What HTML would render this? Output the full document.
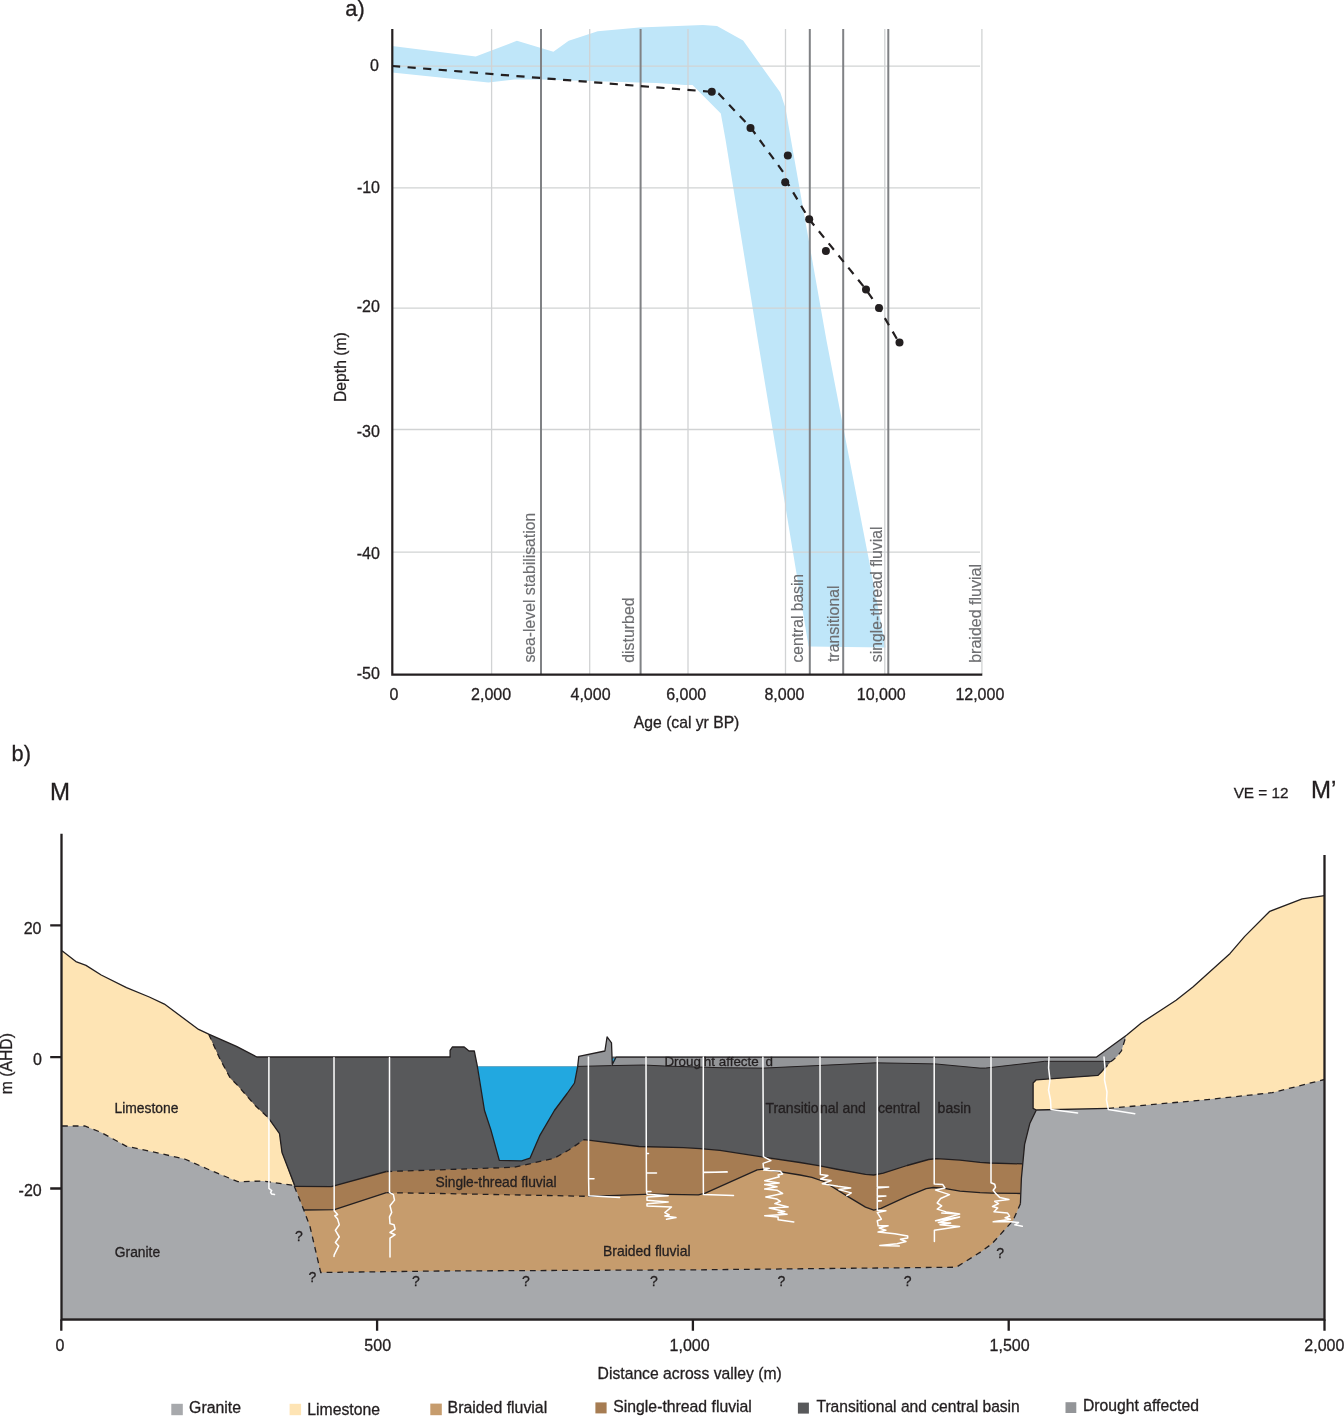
<!DOCTYPE html>
<html><head><meta charset="utf-8">
<style>
html,body{margin:0;padding:0;background:#fff;}
body{width:1344px;height:1416px;overflow:hidden;}
svg{display:block;will-change:transform;}
text{font-family:"Liberation Sans",sans-serif;fill:#231f20;stroke:#231f20;stroke-width:0.3px;}
text.gl{fill:#6d6e71;stroke:#6d6e71;stroke-width:0.15px;}
</style></head>
<body>
<svg width="1344" height="1416" viewBox="0 0 1344 1416">
<rect x="0" y="0" width="1344" height="1416" fill="#fff"/>
<!-- ============ CHART A ============ -->
<g id="a">
<!-- blue band -->
<polygon fill="#bfe6f9" points="392,46 475.7,56.6 516.9,40.8 553.4,51.7 568.7,40.8 597.7,31.3 639.4,27.4 702.9,24.9 717,26.1 743.1,40.5 780.3,92.6 785.5,108.2 791,140 826.4,340 885.8,647.6 808.6,646.4 757.8,340 725.6,140 720.8,113.4 692.5,84.9 685,85.1 656.8,82.9 630,82.2 541.2,79.6 514.4,79.6 488.4,82.5 392,72.5"/>
<!-- light gridlines -->
<g stroke="#d1d3d4" stroke-width="1.3" fill="none">
<path d="M392 66.2H980M392 187.9H980M392 308.1H980M392 429.5H980M392 552.2H980"/>
<path d="M491.6 29V674M589.7 29V674M688 29V674M785.5 29V674M884.8 29V674M981.9 29V674"/>
</g>
<!-- dark verticals -->
<g stroke="#808285" stroke-width="2" fill="none">
<path d="M541 29V674M640.6 29V674M809.8 29V674M843.2 29V674M888.3 29V674"/>
</g>
<!-- dashed curve -->
<polyline fill="none" stroke="#231f20" stroke-width="2.2" stroke-dasharray="8.2 7.4" points="392,66 711.8,91.8 718.5,93.5 750.7,127.6 783.5,172.5 787,182 809.2,219.3 866,289.5 879,308.1 899,342.5"/>
<g fill="#231f20">
<circle cx="711.8" cy="91.8" r="4"/><circle cx="750.5" cy="128" r="4"/>
<circle cx="787.8" cy="155.5" r="4"/><circle cx="785.2" cy="182.3" r="4"/>
<circle cx="809.2" cy="219.3" r="4"/><circle cx="825.9" cy="251.1" r="4"/>
<circle cx="866" cy="289.5" r="4"/><circle cx="879" cy="308.1" r="4"/>
<circle cx="899.5" cy="342.5" r="4"/>
</g>
<!-- axes -->
<path d="M392.3 29V675.8M391.2 674.7H982.3" stroke="#231f20" stroke-width="2.2" fill="none"/>
</g>
<!-- ============ CHART B ============ -->
<g id="b">
<!-- granite base -->
<rect x="62" y="1070" width="1262.5" height="248.5" fill="#a7a9ac"/>
<!-- limestone left -->
<polygon fill="#fee4b4" points="62,950.7 75.9,961.6 86,965.4 101.2,975 126.5,987.7 149.3,997 164.4,1004.1 198.6,1029.4 208.7,1034.2 220,1059 230.2,1078 237.8,1085.6 255.5,1105.8 268.2,1117.7 279.5,1133.6 282,1152.6 294.7,1185.5 263.1,1181 237.8,1181.7 207.4,1169 184.7,1159 161.9,1153.9 126.5,1146.3 101.2,1132.4 84.7,1126 62,1126"/>
<!-- limestone right -->
<polygon fill="#fee4b4" points="1123.3,1044.9 1126.3,1035.2 1141.3,1023 1176.1,1000.2 1192.9,987 1230.1,953.4 1244.5,936.6 1269.8,911.3 1302.2,898.8 1324.5,895.7 1324.5,1079.5 1272.2,1092.7 1202.5,1100.1 1108.3,1108.4 1036.3,1110 1033.1,1108.4 1033.1,1083 1036.3,1079.8 1098,1075.4 1101.4,1072 1103.6,1069.4 1111,1061.6 1113.3,1059.8 1117.4,1056 1121.5,1050.8"/>
<!-- braided (all sediment) -->
<polygon fill="#c69c6d" points="256.8,1057 1096.9,1057.2 1113.3,1059.8 1111,1061.6 1103.6,1069.4 1101.4,1072 1098,1075.4 1036.3,1079.8 1033.1,1083 1033.1,1108.4 1036.3,1110 1029.9,1123.2 1024.6,1144.4 1021.4,1178.3 1020.4,1203.7 1013,1220.6 991.8,1243.9 980,1252.4 956.3,1267.2 700,1269.8 440,1271 320.7,1272.5 310.1,1227 303.8,1210 294.7,1185.5 282,1152.6 279.5,1133.6 268.2,1117.7 255.5,1105.8 237.8,1085.6 230.2,1078 220,1059 208.7,1034.2 236.5,1046.4"/>
<!-- single-thread -->
<polygon fill="#a67c52" points="256.8,1057 1096.9,1057.2 1113.3,1059.8 1111,1061.6 1103.6,1069.4 1101.4,1072 1098,1075.4 1036.3,1079.8 1033.1,1083 1033.1,1108.4 1036.3,1110 1029.9,1123.2 1024.6,1144.4 1021.4,1178.3 1020.4,1193.5 991.8,1193.1 980,1192.7 960,1191.1 942.9,1188.1 933.3,1187.5 926.2,1188.7 907.1,1196.4 881,1208.3 873.8,1210.1 865.5,1207.1 847.6,1196.4 823.8,1181.5 811.9,1177.4 800,1175 763.5,1169.2 757.2,1169.8 705.3,1193.1 698.4,1194.8 651.8,1194.2 588.3,1196.3 440,1193.5 386.4,1192.7 334.5,1209.6 303.8,1210 294.7,1185.5 282,1152.6 279.5,1133.6 268.2,1117.7 255.5,1105.8 237.8,1085.6 230.2,1078 220,1059 208.7,1034.2 236.5,1046.4"/>
<!-- dark transitional / central basin -->
<polygon fill="#58595b" points="208.7,1034.2 236.5,1046.4 256.8,1057 450.1,1057 450.1,1050.3 452.3,1047 464.2,1047 469,1051 474.3,1051 477.3,1066 577.7,1066 578.7,1056.5 1096.9,1057.2 1113.3,1059.8 1111,1061.6 1103.6,1069.4 1101.4,1072 1098,1075.4 1036.3,1079.8 1033.1,1083 1033.1,1108.4 1036.3,1110 1029.9,1123.2 1024.6,1144.4 1022.5,1163.9 989.7,1163 980,1162.4 960,1160.1 936.9,1158.6 928.6,1159.5 907.1,1165.5 883.3,1173.2 873.8,1175 865.5,1174.4 835.7,1169 818.6,1165.6 800,1162.5 763.5,1157.1 720,1150.3 700,1148.6 683.6,1147.6 639.1,1146.5 588.3,1140.1 584,1139.7 569.2,1149.7 554.4,1158.2 514.1,1167.3 440,1169.8 386.4,1171.5 331.3,1186.7 294.3,1186.3 282,1152.6 279.5,1133.6 268.2,1117.7 255.5,1105.8 237.8,1085.6 230.2,1078 220,1059"/>
<polygon fill="#fff" points="474.3,1051 477.3,1066.4 577.7,1066.4 578.8,1056.3 578.8,1040 474.3,1040"/>
<!-- drought affected -->
<polygon fill="#939598" points="577.7,1066.4 578.8,1056.3 604.9,1051 607.1,1036.9 611.5,1042.9 612.3,1064.4 616,1057.2 1096.9,1057.2 1126.3,1035.2 1123.3,1044.9 1121.5,1050.8 1117.4,1056 1113.3,1059.8 1111,1061.6 1101.7,1061.3 1044.7,1061.3 985.4,1068.1 980,1068.1 935.1,1063.9 875.8,1062.8 763.5,1068.1 720,1067.7 664.5,1066 643.3,1065 611.6,1065.6"/>
<!-- water -->
<polygon fill="#22a8e0" points="477.1,1066.4 577.7,1066.4 574.5,1083 567.1,1093.5 554.4,1110.5 539.6,1135.9 530,1158.2 521.6,1160.9 499.3,1160.3 490.8,1129.6 484.5,1110.5"/>
<polygon fill="#22a8e0" points="611.6,1058.4 616.3,1058.4 612.6,1064.2"/>
</g>
<!-- outlines -->
<g fill="none" stroke="#231f20" stroke-width="1.3" stroke-linejoin="round">
<polyline points="62,950.7 75.9,961.6 86,965.4 101.2,975 126.5,987.7 149.3,997 164.4,1004.1 198.6,1029.4 208.7,1034.2 236.5,1046.4 256.8,1057 450.1,1057 450.1,1050.3 452.3,1047 464.2,1047 469,1051 474.3,1051 477.3,1066 484.5,1110.5 490.8,1129.6 499.3,1160.3 521.6,1160.9 530,1158.2 539.6,1135.9 554.4,1110.5 567.1,1093.5 574.5,1083 577.7,1066.4 578.8,1056.3 604.9,1051 607.1,1036.9 611.5,1042.9 612.3,1064.4 616,1057.2 1096.6,1057.1 1126.8,1035 1141.3,1023 1176.1,1000.2 1192.9,987 1230.1,953.4 1244.5,936.6 1269.8,911.3 1302.2,898.8 1324.5,895.7"/>
<polyline stroke-width="1" points="577.7,1066.4 611.6,1065.6 643.3,1065 664.5,1066 720,1067.7 763.5,1068.1 875.8,1062.8 935.1,1063.9 980,1068.1 985.4,1068.1 1044.7,1061.3 1101.7,1061.3 1111,1061.6"/>
<polyline points="268.2,1117.7 279.5,1133.6 282,1152.6 294.7,1185.5"/>
<polyline points="294.3,1186.3 331.3,1186.7 386.4,1171.5"/>
<polyline points="588.3,1140.1 639.1,1146.5 683.6,1147.6 700,1148.6 720,1150.3 763.5,1157.1 800,1162.5 818.6,1165.6 835.7,1169 865.5,1174.4 873.8,1175 883.3,1173.2 907.1,1165.5 928.6,1159.5 936.9,1158.6 960,1160.1 980,1162.4 989.7,1163 1022.5,1163.9"/>
<polyline points="303.8,1210 334.5,1209.6 386.4,1192.7"/>
<polyline points="588.3,1196.3 651.8,1194.2 698.4,1194.8 705.3,1193.1 757.2,1169.8 763.5,1169.2 800,1175 811.9,1177.4 823.8,1181.5 847.6,1196.4 865.5,1207.1 873.8,1210.1 881,1208.3 907.1,1196.4 926.2,1188.7 933.3,1187.5 942.9,1188.1 960,1191.1 980,1192.7 991.8,1193.1 1020.4,1193.5"/>
<polyline points="1020.4,1203.7 1021.4,1178.3 1024.6,1144.4 1029.9,1123.2 1036.3,1110 1033.1,1108.4 1033.1,1083 1036.3,1079.8 1098,1075.4 1101.4,1072 1103.6,1069.4"/>
<polyline points="1036.3,1110 1108.3,1108.4"/>
</g>
<g fill="none" stroke="#231f20" stroke-width="1.3" stroke-dasharray="5.8 4.9">
<polyline points="208.7,1034.2 220,1059 230.2,1078 237.8,1085.6 255.5,1105.8 268.2,1117.7"/>
<polyline points="62,1126 84.7,1126 101.2,1132.4 126.5,1146.3 161.9,1153.9 184.7,1159 207.4,1169 237.8,1181.7 263.1,1181 294.7,1185.5"/>
<polyline points="386.4,1171.5 440,1169.8 514.1,1167.3 554.4,1158.2 569.2,1149.7 584,1139.7 588.3,1140.1"/>
<polyline points="386.4,1192.7 440,1193.5 588.3,1196.3"/>
<polyline points="294.3,1186.3 303.8,1210 310.1,1227 320.7,1272.5 440,1271 700,1269.8 956.3,1267.2 980,1252.4 991.8,1243.9 1013,1220.6 1020.4,1203.7"/>
<polyline points="1108.3,1108.4 1202.5,1100.1 1272.2,1092.7 1324.5,1079.5"/>
<polyline points="1103.6,1069.4 1111,1061.6 1113.3,1059.8 1117.4,1056 1121.5,1050.8 1123.3,1044.9 1126.3,1035.2"/>
</g>
<!-- axes b -->
<g stroke="#231f20" stroke-width="2.3" fill="none">
<path d="M61.5 833.7V1320.6M1324.5 854.9V1320.6M60.4 1319.5H1325.6"/>
<path d="M50.2 925.3H61.5M50.2 1057.1H61.5M50.2 1188.5H61.5"/>
<path d="M61.3 1319.5V1330.8M377.1 1319.5V1330.8M692.9 1319.5V1330.8M1008.7 1319.5V1330.8M1324.5 1319.5V1330.8"/>
</g>
<!-- core logs -->
<g fill="none" stroke="#fff" stroke-width="1.5" stroke-linejoin="round" stroke-linecap="round">
<polyline points="268.9,1057.5 268.9,1188.4 271.7,1190.6 270.6,1192.3 271.7,1194 274.5,1194.6"/>
<polyline points="334,1057.5 334.2,1210.7 337.6,1214.6 334.8,1215.8 337.6,1219.1 339.3,1224.7 335.4,1230.3 339.3,1237 335.4,1242.5 338.7,1245.9 334.2,1254.8 334,1256.5"/>
<polyline points="389.5,1057.5 389.5,1192.3 393.4,1194.6 394.5,1200.1 390,1205.7 391.7,1212.4 389.5,1216.9 390,1223.6 394,1224.7 395.1,1229.2 390,1232.5 395.1,1234.7 390,1238.1 390,1257"/>
<polyline points="588.4,1057 588.6,1178.8 594,1178.8 588.6,1178.8 588.9,1195.8 619.6,1197.5"/>
<polyline points="646,1057 646.3,1153.4 648.5,1153.4 646.3,1153.4 646.4,1173 656.5,1173 646.4,1173 646.5,1191.4 651,1191.4 646.5,1191.4 647,1194.2 668.2,1195.8 647,1197 647,1200.3 668.2,1202 647,1203.7 647,1205.9 671.5,1207 664.8,1212.6 669.3,1214.8 664.8,1215.9 676,1217.6 666.5,1219.3"/>
<polyline points="703.3,1057 703.3,1172.2 727.3,1172 703.3,1172.4 703.4,1194.5 733.5,1195.5"/>
<polyline points="762.9,1057 763.4,1156.7 770.9,1160.6 763.1,1163.4 763.6,1167.9 769.2,1168.4 763.6,1170.1 780.4,1171.2 782.6,1174 778.1,1175.1 779.2,1176.8 764.7,1180.7 779.2,1182.9 764.7,1184.6 777,1186.8 764.7,1189.1 777,1190.2 782.6,1193.5 765.8,1196.9 777,1199.1 780.4,1201.3 774.8,1203.6 788.2,1206.9 769.2,1208 784.8,1211.4 778.1,1212.5 787.1,1214.2 764.7,1215.8 778.1,1217 778.1,1219.8 793.8,1222"/>
<polyline points="820,1057 820.3,1174.5 827.9,1175.6 820.6,1179 831.2,1180.6 822.3,1183.7 837.9,1186.2 850.7,1187.9 839,1189.6 851.3,1192.9 846.8,1195.7"/>
<polyline points="877.3,1057 877.3,1186.8 888.7,1187 877.3,1187.9 877.3,1195.7 885.9,1195.9 877.3,1196.8 877.3,1200.7 881.4,1200.7 877.3,1201.3 877.3,1210.2 885.9,1210.8 877.3,1212.5 881.4,1219.2 877.3,1220.8 878.1,1225.8 888.1,1225.8 879.2,1228.1 885.9,1230.3 878.1,1232 894.8,1233.7 907.7,1235.9 907.7,1238.1 900.4,1239.2 906,1241.5 897.1,1243.7 879.8,1245.4 899.3,1245.9"/>
<polyline points="934.2,1057 934.2,1184 942.8,1184.6 945,1187.9 935.6,1190.1 949.5,1194.6 940.6,1198.5 937.2,1203 941.7,1205.8 937.2,1209.1 946.2,1211.9 959.6,1214.1 941.7,1213 959.6,1214.1 935.6,1220.8 959.6,1216.9 938.4,1222.5 950.6,1223.1 940,1224.7 959.6,1226.4 934.4,1230.3 934.4,1241.5"/>
<polyline points="991,1057 991,1182.7 994.7,1184.2 995.5,1187.2 993.2,1190.2 995.5,1193.2 999.9,1197.6 1008.9,1199.5 994.7,1201.3 998.5,1203.6 992.5,1206.5 997.7,1208 994,1211.8 1007.4,1212.9 1009.6,1216.2 1005.1,1217.7 1010.4,1219.2 993.2,1221.8 1008.9,1221.4 1018.5,1222.5 1014.8,1224.8 1022.3,1226.3"/>
<polyline points="1049,1057 1048.6,1068 1050,1080 1048.5,1090 1050.5,1100 1051,1109.4 1077.6,1113"/>
<polyline points="1104,1057 1105,1068 1104.5,1080 1107,1092 1106.5,1100 1108.3,1109.4 1134.8,1113.7"/>
</g>
<!-- legend -->
<rect x="171.3" y="1403.8" width="11.5" height="11.4" fill="#a7a9ac"/>
<rect x="289.6" y="1403.8" width="11.5" height="11.4" fill="#fee4b4"/>
<rect x="430.3" y="1403.6" width="11.5" height="11.6" fill="#c69c6d"/>
<rect x="595.4" y="1402.4" width="11.2" height="11" fill="#a67c52"/>
<rect x="797.9" y="1402.6" width="11" height="11" fill="#58595b"/>
<rect x="1065.5" y="1402.2" width="10.8" height="10.8" fill="#939598"/>
<!-- text -->
<text x="345.37" y="15.90" font-size="21.80">a)</text>
<text x="369.98" y="71.00" font-size="16.00">0</text>
<text x="356.89" y="192.80" font-size="16.00">-10</text>
<text x="356.79" y="312.30" font-size="16.00">-20</text>
<text x="356.69" y="436.60" font-size="16.00">-30</text>
<text x="356.79" y="558.50" font-size="16.00">-40</text>
<text x="356.79" y="679.10" font-size="16.00">-50</text>
<text x="389.38" y="699.90" font-size="16.00">0</text>
<text x="471.10" y="699.90" font-size="16.00">2,000</text>
<text x="570.53" y="699.90" font-size="16.00">4,000</text>
<text x="666.19" y="699.90" font-size="16.00">6,000</text>
<text x="764.40" y="699.90" font-size="16.00">8,000</text>
<text x="856.78" y="699.90" font-size="16.00">10,000</text>
<text x="955.38" y="699.90" font-size="16.00">12,000</text>
<text x="633.87" y="727.80" font-size="15.69">Age (cal yr BP)</text>
<text transform="translate(345.60,401.99) rotate(-90)" font-size="15.69">Depth (m)</text>
<text transform="translate(535.20,662.54) rotate(-90)" font-size="15.76" class="gl">sea-level stabilisation</text>
<text transform="translate(634.20,662.77) rotate(-90)" font-size="15.90" class="gl">disturbed</text>
<text transform="translate(803.40,662.46) rotate(-90)" font-size="15.62" class="gl">central basin</text>
<text transform="translate(839.00,662.04) rotate(-90)" font-size="15.84" class="gl">transitional</text>
<text transform="translate(882.00,662.24) rotate(-90)" font-size="15.76" class="gl">single-thread fluvial</text>
<text transform="translate(980.90,662.83) rotate(-90)" font-size="16.05" class="gl">braided fluvial</text>
<text x="11.59" y="761.00" font-size="21.80">b)</text>
<text x="49.93" y="800.30" font-size="24.00">M</text>
<text x="1311.03" y="798.40" font-size="24.00">M&#8217;</text>
<text x="1233.63" y="798.40" font-size="15.32">VE = 12</text>
<text x="23.70" y="933.60" font-size="16.00">20</text>
<text x="33.08" y="1064.50" font-size="16.00">0</text>
<text x="18.59" y="1195.50" font-size="16.00">-20</text>
<text transform="translate(12.00,1094.14) rotate(-90)" font-size="15.69">m (AHD)</text>
<text x="55.58" y="1350.80" font-size="16.00">0</text>
<text x="364.36" y="1350.80" font-size="16.00">500</text>
<text x="669.58" y="1350.80" font-size="16.00">1,000</text>
<text x="989.58" y="1350.80" font-size="16.00">1,500</text>
<text x="1304.30" y="1350.80" font-size="16.00">2,000</text>
<text x="597.61" y="1379.00" font-size="15.71">Distance across valley (m)</text>
<text x="114.46" y="1112.70" font-size="13.86">Limestone</text>
<text x="114.81" y="1256.70" font-size="13.82">Granite</text>
<text x="435.47" y="1186.80" font-size="13.79">Single-thread fluvial</text>
<text x="603.06" y="1256.00" font-size="13.93">Braided fluvial</text>
<text x="765.39" y="1112.70" font-size="14.00">Transitio</text>
<text x="819.97" y="1112.70" font-size="14.00">nal and</text>
<text x="878.01" y="1112.70" font-size="14.00">central</text>
<text x="937.60" y="1112.70" font-size="14.00">basin</text>
<text x="664.40" y="1066.40" font-size="13.40">Droug</text>
<text x="703.87" y="1066.40" font-size="13.40">ht affecte</text>
<text x="765.44" y="1066.40" font-size="13.40">d</text>
<text x="299" y="1240.7" font-size="14" text-anchor="middle">?</text>
<text x="312.5" y="1281.8" font-size="14" text-anchor="middle">?</text>
<text x="416" y="1286" font-size="14" text-anchor="middle">?</text>
<text x="525.8" y="1286" font-size="14" text-anchor="middle">?</text>
<text x="653.9" y="1286" font-size="14" text-anchor="middle">?</text>
<text x="781.5" y="1286" font-size="14" text-anchor="middle">?</text>
<text x="907.6" y="1286" font-size="14" text-anchor="middle">?</text>
<text x="1000.2" y="1257.5" font-size="14" text-anchor="middle">?</text>
<text x="189.10" y="1413.00" font-size="15.83">Granite</text>
<text x="307.31" y="1414.50" font-size="15.78">Limestone</text>
<text x="447.60" y="1413.30" font-size="15.87">Braided fluvial</text>
<text x="613.28" y="1411.60" font-size="15.79">Single-thread fluvial</text>
<text x="816.45" y="1411.80" font-size="15.62">Transitional and central basin</text>
<text x="1083.01" y="1411.00" font-size="15.72">Drought affected</text>
</svg>
</body></html>
